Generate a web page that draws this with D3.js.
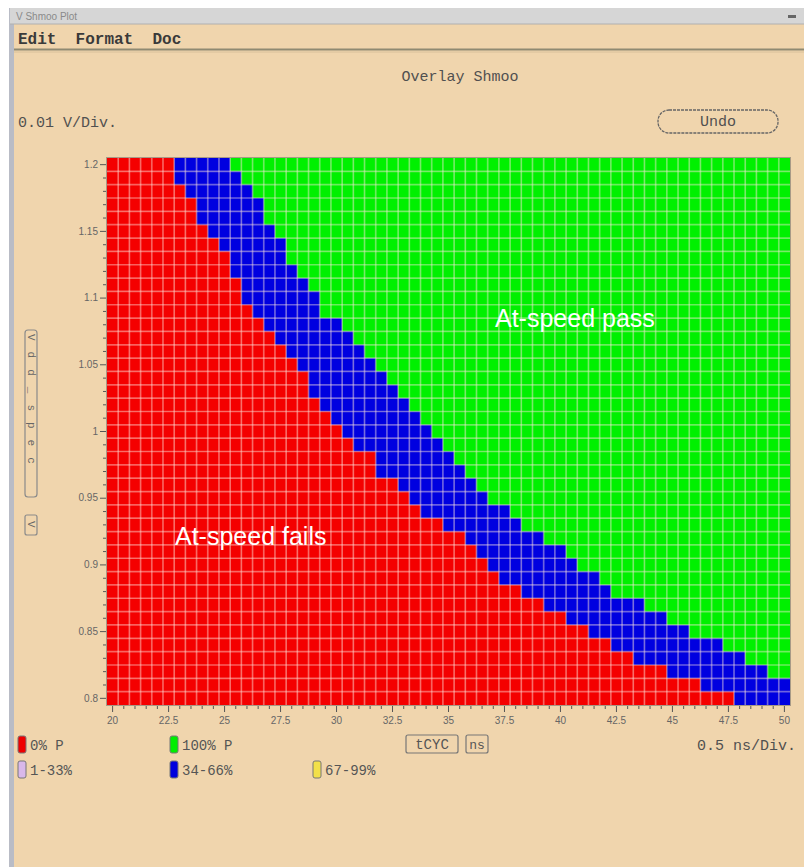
<!DOCTYPE html>
<html><head><meta charset="utf-8">
<script src="https://cdn.jsdelivr.net/npm/d3@7"></script>
<style>
html,body{margin:0;padding:0;background:#fff;}
svg{display:block;}
</style></head>
<body>
<svg id="c" width="804" height="867"></svg>
<script>
// ---------- DATA ----------
// supply voltage rows (V), top to bottom
const vdd = [1.20,1.19,1.18,1.17,1.16,1.15,1.14,1.13,1.12,1.11,1.10,1.09,1.08,1.07,1.06,1.05,1.04,1.03,1.02,1.01,1.00,
             0.99,0.98,0.97,0.96,0.95,0.94,0.93,0.92,0.91,0.90,0.89,0.88,0.87,0.86,0.85,0.84,0.83,0.82,0.81,0.80];
// first tCYC (ns) of each row that is no longer 0% pass (start of 34-66% band)
const partialStart = [23,23,23.5,24,24,24.5,25,25.5,25.5,26,26,26.5,27,27.5,28,28.5,29,29,29.5,30,30.5,
                      31,32,32,33,33.5,34,35,36,36.5,37,37.5,38.5,39.5,40.5,41.5,42.5,43.5,45,46.5,48];
// first tCYC (ns) of each row that is 100% pass (null = never within range)
const passStart = [25.5,26,26.5,27,27,27.5,28,28,28.5,29,29.5,29.5,30.5,31,31.5,32,32.5,33,33.5,34,34.5,
                   35,35.5,36,36.5,37,38,38.5,39.5,40.5,41,42,42.5,44,45,46,47.5,48.5,49.5,null,null];
const tcycMin = 20, tcycMax = 50, tcycStep = 0.5;
const xTickLabels = ["20","22.5","25","27.5","30","32.5","35","37.5","40","42.5","45","47.5","50"];
const yTickLabels = ["1.2","1.15","1.1","1.05","1","0.95","0.9","0.85","0.8"];
const legendItems = [
  {label:"0% P", color:"#ee0000"},
  {label:"100% P", color:"#00ee00"},
  {label:"1-33%", color:"#d9b8ea"},
  {label:"34-66%", color:"#0000dd"},
  {label:"67-99%", color:"#f2e04a"}
];
const catColor = {fail:"#f40000", partial:"#0000e0", pass:"#00f000"};

// ---------- LAYOUT ----------
const svg = d3.select("#c");
const W = 804, H = 867;
const mono = "'Liberation Mono','DejaVu Sans Mono',monospace";
const tan = "#f0d5ad";

svg.append("rect").attr("width",W).attr("height",H).attr("fill","#fff");
svg.append("rect").attr("x",10).attr("y",8).attr("width",W-10).attr("height",H-8).attr("fill",tan);
svg.append("rect").attr("x",9).attr("y",8).attr("width",5).attr("height",H-8).attr("fill","#b9bcc6");
// title bar
svg.append("rect").attr("x",10).attr("y",8).attr("width",W-10).attr("height",16).attr("fill","#d6d6d6");
svg.append("line").attr("x1",10).attr("x2",W).attr("y1",24).attr("y2",24).attr("stroke","#b0b0b0");
svg.append("text").attr("x",16).attr("y",20).attr("font-family","'Liberation Sans',sans-serif")
  .attr("font-size",10).attr("fill","#8a8a8a").text("V Shmoo Plot");
svg.append("rect").attr("x",788).attr("y",15).attr("width",8).attr("height",3).attr("fill","#666");
// menu
svg.append("text").attr("x",18).attr("y",44).attr("font-family",mono).attr("font-weight","bold")
  .attr("font-size",16).attr("fill","#3a3a3a").attr("xml:space","preserve").text("Edit  Format  Doc");
svg.append("line").attr("x1",14).attr("x2",W).attr("y1",49.5).attr("y2",49.5).attr("stroke","#8f8a72").attr("stroke-width",2);
svg.append("line").attr("x1",14).attr("x2",W).attr("y1",52).attr("y2",52).attr("stroke","#d8c09a").attr("stroke-width",1);

// title
svg.append("text").attr("x",460).attr("y",81).attr("text-anchor","middle").attr("font-family",mono)
  .attr("font-size",15).attr("fill","#505050").text("Overlay Shmoo");
svg.append("text").attr("x",18).attr("y",127).attr("font-family",mono)
  .attr("font-size",15).attr("fill","#505050").text("0.01 V/Div.");
// Undo button
svg.append("rect").attr("x",658).attr("y",110).attr("width",120).attr("height",23).attr("rx",11)
  .attr("fill","none").attr("stroke","#666").attr("stroke-width",1.3).attr("stroke-dasharray","3 1");
svg.append("text").attr("x",718).attr("y",126).attr("text-anchor","middle").attr("font-family",mono)
  .attr("font-size",15).attr("fill","#505050").text("Undo");

// ---------- PLOT ----------
const px0 = 107, px1 = 790, py0 = 158, py1 = 705;
const tcyc = d3.range(tcycMin, tcycMax + tcycStep/2, tcycStep);
const x = d3.scaleBand().domain(tcyc).range([px0, px1]);
const y = d3.scaleBand().domain(vdd).range([py0, py1]);

const cells = [];
vdd.forEach((v,i) => {
  tcyc.forEach(t => {
    let cat = "pass";
    if (t < partialStart[i]) cat = "fail";
    else if (passStart[i] === null || t < passStart[i]) cat = "partial";
    cells.push({v, t, cat});
  });
});
const g = svg.append("g");
g.selectAll("rect.cell").data(cells).join("rect").attr("class","cell")
  .attr("x", d => x(d.t)).attr("y", d => y(d.v))
  .attr("width", x.bandwidth()+0.3).attr("height", y.bandwidth()+0.3)
  .attr("fill", d => catColor[d.cat]);
g.selectAll("line.vg").data(tcyc.slice(1)).join("line").attr("class","vg")
  .attr("x1", d => x(d)).attr("x2", d => x(d)).attr("y1", py0).attr("y2", py1)
  .attr("stroke","#ffe8e0").attr("stroke-opacity",0.42).attr("stroke-width",1.7);
g.selectAll("line.hg").data(vdd.slice(1)).join("line").attr("class","hg")
  .attr("y1", d => y(d)).attr("y2", d => y(d)).attr("x1", px0).attr("x2", px1)
  .attr("stroke","#ffe8e0").attr("stroke-opacity",0.42).attr("stroke-width",1.7);
svg.append("rect").attr("x",px0-0.5).attr("y",py0-0.5).attr("width",px1-px0+1).attr("height",py1-py0+1)
  .attr("fill","none").attr("stroke","#a89a86").attr("stroke-width",1);

// axes
const xAxis = d3.axisBottom(x)
  .tickSizeOuter(0)
  .tickFormat((d,i) => i % 5 === 0 ? xTickLabels[i/5] : "");
const xg = svg.append("g").attr("transform",`translate(0,${py1+1})`).call(xAxis);
xg.select(".domain").remove();
xg.selectAll(".tick line").attr("stroke","#555").attr("y2",(d,i)=> i%5===0?6:3);
xg.selectAll(".tick text").attr("font-family","'Liberation Sans',sans-serif").attr("font-size",10)
  .attr("fill","#666").attr("dy","0.9em");

const yAxis = d3.axisLeft(y)
  .tickSizeOuter(0)
  .tickFormat((d,i) => i % 5 === 0 ? yTickLabels[i/5] : "");
const yg = svg.append("g").attr("transform",`translate(${px0-1},0)`).call(yAxis);
yg.select(".domain").remove();
yg.selectAll(".tick line").attr("stroke","#555").attr("x2",(d,i)=> i%5===0?-6:-3);
yg.selectAll(".tick text").attr("font-family","'Liberation Sans',sans-serif").attr("font-size",10)
  .attr("fill","#666").attr("x",-8);

// y-axis label boxes
svg.append("rect").attr("x",25).attr("y",330).attr("width",12).attr("height",167).attr("rx",3)
  .attr("fill","none").attr("stroke","#8a8a8a").attr("stroke-width",1.2);
svg.append("text").attr("transform","translate(27.5,334) rotate(90)").attr("font-family",mono)
  .attr("font-size",11).attr("fill","#666").attr("letter-spacing",11).text("Vdd_spec");
svg.append("rect").attr("x",25).attr("y",515).attr("width",12).attr("height",20).attr("rx",2)
  .attr("fill","none").attr("stroke","#8a8a8a").attr("stroke-width",1.2);
svg.append("text").attr("transform","translate(27.5,521) rotate(90)").attr("font-family",mono)
  .attr("font-size",11).attr("fill","#666").text("V");

// annotations
svg.append("text").attr("x",495).attr("y",327).attr("font-family","'Liberation Sans',Arial,sans-serif")
  .attr("font-size",25).attr("fill","#fff").text("At-speed pass");
svg.append("text").attr("x",175).attr("y",545).attr("font-family","'Liberation Sans',Arial,sans-serif")
  .attr("font-size",25).attr("fill","#fff").text("At-speed fails");

// ---------- LEGEND ----------
const legPos = [[18,736],[170,736],[18,761],[170,761],[313,761]];
legendItems.forEach((it,i) => {
  const [lx,ly] = legPos[i];
  svg.append("rect").attr("x",lx).attr("y",ly).attr("width",8).attr("height",17).attr("rx",2)
    .attr("fill",it.color).attr("stroke","#777").attr("stroke-width",1);
  svg.append("text").attr("x",lx+12).attr("y",ly+14).attr("font-family",mono)
    .attr("font-size",14).attr("fill","#555").text(it.label);
});
svg.append("rect").attr("x",406).attr("y",735).attr("width",52).attr("height",18).attr("rx",2)
  .attr("fill","none").attr("stroke","#777").attr("stroke-width",1.2);
svg.append("text").attr("x",432).attr("y",749).attr("text-anchor","middle").attr("font-family",mono)
  .attr("font-size",14).attr("fill","#555").text("tCYC");
svg.append("rect").attr("x",466).attr("y",735).attr("width",22).attr("height",18).attr("rx",2)
  .attr("fill","none").attr("stroke","#777").attr("stroke-width",1.2);
svg.append("text").attr("x",477).attr("y",749).attr("text-anchor","middle").attr("font-family",mono)
  .attr("font-size",13).attr("fill","#555").text("ns");
svg.append("text").attr("x",796).attr("y",750).attr("text-anchor","end").attr("font-family",mono)
  .attr("font-size",15).attr("fill","#505050").text("0.5 ns/Div.");
</script>
</body></html>
